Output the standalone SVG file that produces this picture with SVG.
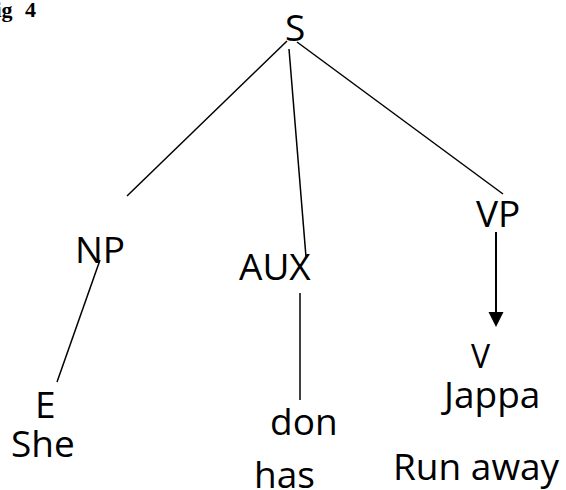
<svg xmlns="http://www.w3.org/2000/svg" width="566" height="490" viewBox="0 0 566 490">
  <defs>
    <style>
      .lbl { font-family: "Open Sans", "Noto Sans", sans-serif; font-size: 37px; fill: #000; }
      .small { font-size: 32px; }
      .cap { font-family: "Liberation Serif", "Times New Roman", serif; font-size: 22px; font-weight: bold; fill: #000; }
      .edge { stroke: #000; stroke-width: 1.5; fill: none; }
    </style>
  </defs>
  <rect width="566" height="490" fill="#fff"/>

  <!-- figure caption, partly off the left edge -->
  <text class="cap" x="-18" y="17">Fig<tspan x="25">4</tspan></text>

  <!-- connectors -->
  <g id="edges">
    <line class="edge" x1="287" y1="41" x2="127" y2="196"/>
    <line class="edge" x1="289" y1="49" x2="306" y2="257"/>
    <line class="edge" x1="297" y1="42" x2="503" y2="194"/>
    <line class="edge" x1="100" y1="260" x2="57" y2="382"/>
    <line class="edge" x1="300" y1="293" x2="300" y2="400"/>
    <line x1="496" y1="232" x2="496" y2="312" stroke="#000" stroke-width="2"/>
    <path d="M488.5,312 L503.5,312 L496,327 Z" fill="#000"/>
  </g>

  <!-- tree nodes -->
  <g id="node-S"><text class="lbl" x="285" y="41">S</text></g>
  <g id="node-NP"><text class="lbl" x="75" y="263">NP</text></g>
  <g id="node-AUX"><text class="lbl" x="239" y="280">AUX</text></g>
  <g id="node-VP"><text class="lbl" x="476" y="227">VP</text></g>
  <g id="node-E">
    <text class="lbl" x="35" y="418">E</text>
    <text class="lbl" x="11" y="457">She</text>
  </g>
  <g id="node-don">
    <text class="lbl" x="270" y="435">don</text>
    <text class="lbl" x="254" y="488">has</text>
  </g>
  <g id="node-V">
    <text class="lbl small" x="471" y="368">V</text>
    <text class="lbl" x="444" y="408">Jappa</text>
    <text class="lbl" x="393" y="480">Run away</text>
  </g>
</svg>
